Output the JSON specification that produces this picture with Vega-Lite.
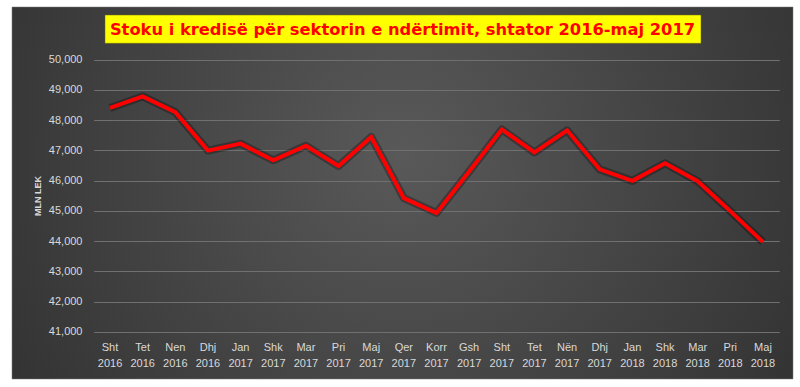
{
  "$schema": "https://vega.github.io/schema/vega-lite/v6.json",
  "width": 781,
  "height": 372,
  "autosize": "none",
  "padding": {"left": 12, "top": 7, "right": 7, "bottom": 8},
  "background": "#ffffff",
  "view": {
    "fill": {"gradient": "radial", "x1": 0.5, "y1": 0.45, "r1": 0, "x2": 0.5, "y2": 0.45, "r2": 0.75,
      "stops": [{"offset": 0, "color": "#595959"}, {"offset": 1, "color": "#282828"}]},
    "stroke": "#7a7a7a",
    "strokeWidth": 0.5
  },
  "title": {
    "text": "Stoku i kredisë për sektorin e ndërtimit, shtator 2016-maj 2017",
    "font": "DejaVu Sans",
    "fontWeight": "bold",
    "fontSize": 16.3,
    "color": "#ff0000",
    "anchor": "middle",
    "frame": "group",
    "baseline": "alphabetic",
    "offset": -44
  },
  "data": {
    "values": [
      {"period": "Sht 2016", "value": 48400},
      {"period": "Tet 2016", "value": 48780},
      {"period": "Nen 2016", "value": 48260},
      {"period": "Dhj 2016", "value": 46990},
      {"period": "Jan 2017", "value": 47220},
      {"period": "Shk 2017", "value": 46670},
      {"period": "Mar 2017", "value": 47150},
      {"period": "Pri 2017", "value": 46480},
      {"period": "Maj 2017", "value": 47440},
      {"period": "Qer 2017", "value": 45420},
      {"period": "Korr 2017", "value": 44930},
      {"period": "Gsh 2017", "value": 46300},
      {"period": "Sht 2017", "value": 47690},
      {"period": "Tet 2017", "value": 46930},
      {"period": "Nën 2017", "value": 47660},
      {"period": "Dhj 2017", "value": 46370},
      {"period": "Jan 2018", "value": 45990},
      {"period": "Shk 2018", "value": 46570},
      {"period": "Mar 2018", "value": 45980},
      {"period": "Pri 2018", "value": 44990},
      {"period": "Maj 2018", "value": 43970}
    ]
  },
  "resolve": {"scale": {"x": "independent", "y": "independent"}, "axis": {"x": "independent", "y": "independent"}},
  "layer": [
    {
      "data": {"values": [{}]},
      "mark": {"type": "rect", "color": "#ffff00", "stroke": "#6b6b00", "strokeWidth": 0.5},
      "encoding": {
        "x": {"datum": 0, "type": "quantitative", "scale": {"domain": [0, 1], "range": [93, 689]}, "axis": null},
        "x2": {"datum": 1},
        "y": {"datum": 0, "type": "quantitative", "scale": {"domain": [0, 1], "range": [36.3, 8]}, "axis": null},
        "y2": {"datum": 1}
      }
    },
    {
      "encoding": {
        "x": {
          "field": "period",
          "type": "ordinal",
          "sort": null,
          "scale": {"type": "band", "range": [81.7, 767.3], "paddingInner": 0, "paddingOuter": 0},
          "axis": {
            "orient": "bottom",
            "title": null,
            "labelExpr": "split(datum.value, ' ')",
            "labelAngle": 0,
            "labelBaseline": "top",
            "labelLineHeight": 16,
            "labelOverlap": false,
            "domain": false,
            "ticks": false,
            "grid": false,
            "labelPadding": 0,
            "offset": -37.5,
            "labelColor": "#d9d9d9",
            "labelFont": "Liberation Sans",
            "labelFontSize": 11
          }
        },
        "y": {
          "field": "value",
          "type": "quantitative",
          "scale": {"domain": [41000, 50000], "range": [324.9, 52.5], "zero": false, "nice": false},
          "axis": {
            "values": [41000, 42000, 43000, 44000, 45000, 46000, 47000, 48000, 49000, 50000],
            "format": ",d",
            "grid": true,
            "gridColor": "#707070",
            "gridWidth": 1,
            "domain": false,
            "ticks": false,
            "labelPadding": 0,
            "offset": -70,
            "labelColor": "#d9d9d9",
            "labelFont": "Liberation Sans",
            "labelFontSize": 11,
            "title": "MLN LEK",
            "titleFont": "Liberation Sans",
            "titleFontSize": 9,
            "titleFontWeight": "bold",
            "titleColor": "#d9d9d9",
            "titleAngle": -90,
            "titleAlign": "center",
            "titleBaseline": "middle",
            "titleX": -45,
            "titleY": 188.5
          }
        }
      },
      "layer": [
        {
          "mark": {"type": "line", "stroke": "#000000", "strokeWidth": 8, "opacity": 0.3, "strokeJoin": "round"}
        },
        {
          "mark": {"type": "line", "stroke": "#ff0000", "strokeWidth": 4, "strokeJoin": "miter"}
        }
      ]
    }
  ]
}
